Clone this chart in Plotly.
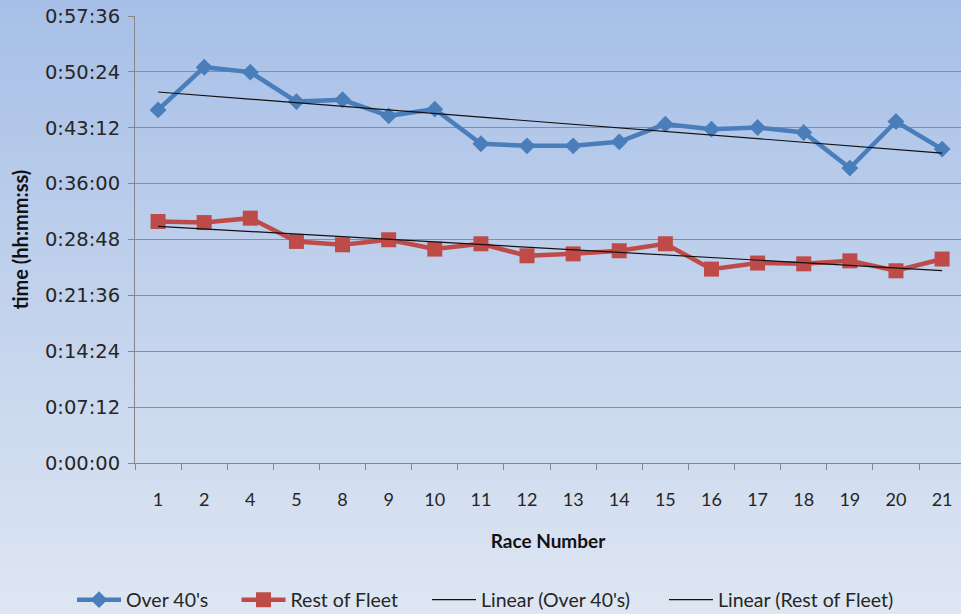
import numpy as np
import plotly.graph_objects as go

# ---------------- data ----------------
races = ["1", "2", "4", "5", "8", "9", "10", "11", "12", "13", "14", "15",
         "16", "17", "18", "19", "20", "21"]
# race times in seconds
over40_sec = [2730, 3060, 3022, 2794, 2808, 2684, 2736, 2468, 2452, 2452,
              2483, 2620, 2581, 2594, 2555, 2280, 2640, 2427]
rest_sec = [1867, 1859, 1893, 1713, 1687, 1726, 1654, 1695, 1602, 1617,
            1641, 1695, 1499, 1546, 1540, 1563, 1486, 1577]
y_tick_labels = ["0:00:00", "0:07:12", "0:14:24", "0:21:36", "0:28:48",
                 "0:36:00", "0:43:12", "0:50:24", "0:57:36"]
series_names = ["Over 40's", "Rest of Fleet",
                "Linear (Over 40's)", "Linear (Rest of Fleet)"]


def to_sec(s):
    h, m, sec = (int(p) for p in s.split(":"))
    return h * 3600 + m * 60 + sec


def fmt(s):
    s = int(round(s))
    return f"{s // 3600}:{(s % 3600) // 60:02d}:{s % 60:02d}"


y_tick_vals = [to_sec(t) for t in y_tick_labels]

# linear trendlines (as Excel does, on category index 1..n)
idx = np.arange(1, len(races) + 1)
fit_o = np.polyval(np.polyfit(idx, over40_sec, 1), idx)
fit_r = np.polyval(np.polyfit(idx, rest_sec, 1), idx)

W, H = 961, 614
ML, MR, MT, MB = 135, 0, 16, 151
PW, PH = W - ML - MR, H - MT - MB

BLUE = "#4a7ebb"
RED = "#be4b48"
FONT = "Lato"

fig = go.Figure()
fig.add_trace(go.Scatter(
    x=races, y=over40_sec, name=series_names[0], mode="lines+markers",
    line=dict(color=BLUE, width=4.5),
    marker=dict(symbol="diamond", size=13, color=BLUE),
    text=[fmt(v) for v in over40_sec], hoverinfo="text", legend="legend"))
fig.add_trace(go.Scatter(
    x=races, y=rest_sec, name=series_names[1], mode="lines+markers",
    line=dict(color=RED, width=4.5),
    marker=dict(symbol="square", size=15, color=RED),
    text=[fmt(v) for v in rest_sec], hoverinfo="text", legend="legend2"))
fig.add_trace(go.Scatter(
    x=races, y=fit_o, name=series_names[2], mode="lines",
    line=dict(color="#111111", width=1.2), legend="legend3"))
fig.add_trace(go.Scatter(
    x=races, y=fit_r, name=series_names[3], mode="lines",
    line=dict(color="#111111", width=1.2), legend="legend4"))

# background vertical gradient
top = np.array([167, 191, 231])
bot = np.array([222, 230, 242])
n = 90
shapes = []
y_top = 1 + MT / PH
y_bot = -MB / PH
for i in range(n):
    t = (i + 0.5) / n
    c = top + (bot - top) * t
    y1 = y_top - (y_top - y_bot) * i / n
    y0 = y_top - (y_top - y_bot) * (i + 1) / n
    shapes.append(dict(type="rect", xref="paper", yref="paper",
                       x0=-ML / PW - 0.01, x1=1 + MR / PW + 0.01,
                       y0=y0 - 0.002, y1=y1 + 0.002, layer="below",
                       line=dict(width=0),
                       fillcolor=f"rgb({c[0]:.0f},{c[1]:.0f},{c[2]:.0f})"))


def lx(px):
    return (px - ML) / PW


leg_y = (H - MB - 600) / PH
legend_common = dict(orientation="h", yanchor="middle", y=leg_y,
                      xanchor="left", bgcolor="rgba(0,0,0,0)", itemwidth=44,
                      font=dict(family=FONT, size=19.5, color="#262626"))

fig.update_layout(
    width=W, height=H,
    margin=dict(l=ML, r=MR, t=MT, b=MB, autoexpand=False),
    paper_bgcolor="rgb(218,227,240)",
    plot_bgcolor="rgba(0,0,0,0)",
    shapes=shapes,
    font=dict(family=FONT, color="#262626"),
    legend=dict(x=lx(72), **legend_common),
    legend2=dict(x=lx(236.5), **legend_common),
    legend3=dict(x=lx(427), **legend_common),
    legend4=dict(x=lx(664), **legend_common),
    xaxis=dict(
        type="category", range=[-0.5, 17.41],
        tickson="boundaries", ticks="outside", ticklen=6,
        tickcolor="#868686", showline=True, linecolor="#868686",
        showgrid=False, tickfont=dict(family=FONT, size=18, color="#262626"),
        ticklabelstandoff=20,
        title=dict(text="<b>Race Number</b>", standoff=26,
                   font=dict(family=FONT, size=19, color="#111111")),
    ),
    yaxis=dict(
        range=[0, 3456], tickvals=y_tick_vals, ticktext=y_tick_labels,
        ticks="outside", ticklen=6, tickcolor="#868686",
        showline=True, linecolor="#868686",
        showgrid=True, gridcolor="#878c96", gridwidth=1, zeroline=False,
        tickfont=dict(family="DejaVu Sans", size=19.5, color="#262626"),
        ticklabelstandoff=4,
        title=dict(text="<b>time (hh:mm:ss)</b>", standoff=10,
                   font=dict(family=FONT, size=20, color="#111111")),
    ),
    showlegend=True,
)

fig.write_html(
    "out.html",
    config={"displayModeBar": False},
    post_script=(
        "var d=document.getElementById('{plot_id}');"
        "d.style.display='block';"
        "document.documentElement.style.margin='0';"
        "document.documentElement.style.background='rgb(222,230,242)';"
        "document.body.style.margin='0';"
        "document.body.style.background='rgb(222,230,242)';"
        "document.body.style.overflow='hidden';"
    ))
